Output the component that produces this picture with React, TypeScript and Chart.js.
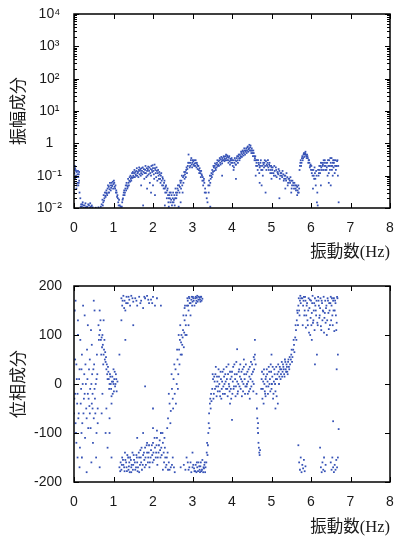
import React, { useEffect, useRef } from 'react';
import { Chart, registerables } from 'chart.js';
Chart.register(...registerables);

// ---- tick definitions ----
const freqTicks = [0, 1, 2, 3, 4, 5, 6, 7, 8];
const ampDecades = [0.01, 0.1, 1, 10, 100, 1000, 10000];
const ampDecadeLabels = ['10⁻²', '10⁻¹', '1', '10¹', '10²', '10³', '10⁴'];
const phaseTicks = [-200, -100, 0, 100, 200];

// ---- amplitude (振幅成分) : [frequency Hz, amplitude] ----
const amplitudeMain: [number, number][] = [
  [0.0, 0.05], [0.0, 0.03], [0.0, 0.15], [0.01, 0.12], [0.02, 0.2], [0.03, 0.08], [0.04, 0.15], [0.05, 0.1], [0.06, 0.04], [0.07, 0.13],
  [0.08, 0.09], [0.09, 0.06], [0.1, 0.14], [0.11, 0.05], [0.12, 0.11], [0.13, 0.07], [0.14, 0.03], [0.16, 0.02],
  [0.18, 0.013], [0.2, 0.011], [0.22, 0.015], [0.25, 0.01], [0.27, 0.012], [0.3, 0.0105], [0.33, 0.011], [0.36, 0.013], [0.4, 0.0102],
  [0.43, 0.011], [0.45, 0.012], [0.55, 0.0102], [0.62, 0.0105],
  [0.68, 0.011], [0.7, 0.013], [0.72, 0.018], [0.74, 0.015], [0.75, 0.025], [0.77, 0.02], [0.78, 0.03], [0.8, 0.022], [0.82, 0.035],
  [0.83, 0.028], [0.85, 0.04], [0.87, 0.03], [0.88, 0.045], [0.9, 0.038], [0.92, 0.05], [0.94, 0.042], [0.95, 0.06], [0.97, 0.048],
  [0.98, 0.065], [1.0, 0.055], [1.01, 0.07], [1.03, 0.045],
  [1.04, 0.04], [1.06, 0.03], [1.07, 0.035], [1.09, 0.022], [1.1, 0.025], [1.12, 0.015], [1.14, 0.018], [1.16, 0.012], [1.18, 0.011],
  [1.22, 0.015], [1.24, 0.02], [1.26, 0.03], [1.28, 0.025], [1.3, 0.04], [1.32, 0.035], [1.34, 0.05], [1.36, 0.045], [1.38, 0.06],
  [1.4, 0.07], [1.42, 0.065], [1.44, 0.08], [1.46, 0.09], [1.48, 0.085], [1.5, 0.1],
  [1.52, 0.12], [1.54, 0.09], [1.56, 0.11], [1.58, 0.14], [1.6, 0.1], [1.62, 0.13], [1.64, 0.15], [1.66, 0.11], [1.68, 0.16], [1.7, 0.12],
  [1.72, 0.14], [1.74, 0.18], [1.76, 0.13], [1.78, 0.08], [1.8, 0.15], [1.82, 0.12], [1.84, 0.17], [1.86, 0.1], [1.88, 0.19], [1.9, 0.14],
  [1.92, 0.06], [1.94, 0.16], [1.96, 0.2], [1.98, 0.13], [2.0, 0.17], [2.02, 0.11], [2.04, 0.22], [2.06, 0.15], [2.08, 0.09], [2.1, 0.14],
  [2.12, 0.12], [2.14, 0.1], [2.16, 0.13], [2.18, 0.08], [2.2, 0.1], [1.75, 0.012], [1.95, 0.03], [2.0, 0.05],
  [2.22, 0.07], [2.24, 0.09], [2.26, 0.05], [2.28, 0.06], [2.3, 0.04], [2.32, 0.045], [2.34, 0.03], [2.36, 0.035], [2.38, 0.025],
  [2.4, 0.02], [2.42, 0.03], [2.44, 0.015], [2.46, 0.018], [2.48, 0.012], [2.5, 0.02], [2.3, 0.012], [2.4, 0.011],
  [2.52, 0.015], [2.54, 0.025], [2.56, 0.02], [2.58, 0.03], [2.6, 0.025], [2.62, 0.04], [2.64, 0.035], [2.66, 0.05], [2.68, 0.045],
  [2.7, 0.06], [2.72, 0.07], [2.74, 0.05], [2.76, 0.09], [2.78, 0.1], [2.8, 0.08], [2.82, 0.13], [2.84, 0.15], [2.86, 0.12], [2.88, 0.2],
  [2.9, 0.45], [2.92, 0.25], [2.55, 0.012], [2.65, 0.011], [2.7, 0.015], [2.75, 0.03],
  [2.94, 0.2], [2.96, 0.3], [2.98, 0.22], [3.0, 0.25], [3.02, 0.28], [3.04, 0.2], [3.06, 0.24], [3.08, 0.3], [3.1, 0.18], [3.12, 0.22],
  [3.14, 0.2], [3.16, 0.15], [3.18, 0.17], [3.2, 0.12], [3.22, 0.14], [3.24, 0.1], [3.26, 0.09], [3.28, 0.07], [3.3, 0.06], [3.32, 0.04],
  [3.34, 0.03], [3.36, 0.02], [3.38, 0.015], [3.45, 0.011],
  [3.4, 0.05], [3.42, 0.07], [3.44, 0.1], [3.46, 0.08], [3.48, 0.12], [3.5, 0.15], [3.52, 0.13], [3.54, 0.18], [3.56, 0.2], [3.58, 0.17],
  [3.6, 0.22], [3.62, 0.25], [3.64, 0.2], [3.66, 0.28], [3.68, 0.3], [3.7, 0.25], [3.72, 0.32], [3.74, 0.28], [3.76, 0.35], [3.78, 0.3],
  [3.8, 0.38], [3.82, 0.33], [3.84, 0.4], [3.86, 0.35], [3.88, 0.42], [3.9, 0.3], [3.92, 0.36], [3.94, 0.28], [3.96, 0.33], [3.98, 0.25],
  [4.0, 0.3], [4.02, 0.2], [4.04, 0.15], [4.06, 0.25], [4.08, 0.3], [4.1, 0.22], [4.12, 0.35], [4.14, 0.3], [4.16, 0.4], [4.18, 0.35],
  [4.2, 0.45], [4.22, 0.4], [4.24, 0.5], [4.26, 0.45], [4.28, 0.55], [4.3, 0.5], [4.32, 0.6], [4.34, 0.55], [4.36, 0.7], [4.38, 0.6],
  [4.4, 0.8], [4.42, 0.65], [4.44, 0.9], [4.46, 0.75], [4.48, 0.6], [4.5, 0.7], [4.52, 0.5], [4.54, 0.6], [4.56, 0.4], [4.58, 0.35],
  [4.6, 0.3], [4.62, 0.25], [4.64, 0.2], [4.66, 0.3], [4.68, 0.22], [4.7, 0.18], [4.72, 0.25], [4.74, 0.15], [4.76, 0.2], [4.78, 0.1],
  [4.8, 0.22], [4.82, 0.25], [4.84, 0.2], [4.86, 0.28], [4.88, 0.22], [4.9, 0.25], [4.92, 0.18], [4.94, 0.22], [4.96, 0.2], [4.98, 0.15],
  [5.0, 0.18], [4.1, 0.08], [4.75, 0.05], [4.85, 0.03], [5.0, 0.08],
  [5.02, 0.15], [5.05, 0.12], [5.07, 0.2], [5.1, 0.1], [5.12, 0.15], [5.15, 0.13], [5.17, 0.11], [5.2, 0.14], [5.22, 0.1], [5.25, 0.12],
  [5.27, 0.09], [5.3, 0.11], [5.32, 0.08], [5.35, 0.1], [5.37, 0.07], [5.4, 0.09], [5.42, 0.06], [5.45, 0.08], [5.47, 0.06], [5.5, 0.07],
  [5.52, 0.05], [5.55, 0.06], [5.57, 0.04], [5.6, 0.05], [5.62, 0.035], [5.65, 0.045], [5.67, 0.03], [5.7, 0.04], [5.2, 0.02], [5.35, 0.04],
  [5.5, 0.03], [5.65, 0.025],
  [5.72, 0.2], [5.74, 0.3], [5.76, 0.25], [5.78, 0.4], [5.8, 0.35], [5.82, 0.5], [5.84, 0.45], [5.86, 0.55], [5.88, 0.4], [5.9, 0.45],
  [5.92, 0.35], [5.94, 0.3], [5.96, 0.25], [5.98, 0.2], [6.0, 0.15],
  [6.02, 0.12], [6.04, 0.1], [6.06, 0.15], [6.08, 0.08], [6.1, 0.12], [6.12, 0.05], [6.14, 0.1], [6.16, 0.03], [6.18, 0.15], [6.2, 0.12],
  [6.15, 0.015], [6.17, 0.012], [6.05, 0.04],
  [6.22, 0.15], [6.24, 0.2], [6.26, 0.18], [6.28, 0.25], [6.3, 0.22], [6.32, 0.3], [6.34, 0.2], [6.36, 0.15], [6.38, 0.25], [6.4, 0.18],
  [6.42, 0.1], [6.44, 0.2], [6.46, 0.3], [6.48, 0.15], [6.5, 0.25], [6.52, 0.35], [6.54, 0.2], [6.56, 0.3], [6.58, 0.25], [6.6, 0.12],
  [6.62, 0.3], [6.64, 0.2], [6.66, 0.28], [6.68, 0.1], [6.7, 0.015], [6.5, 0.05], [6.55, 0.1],
];

const amplitudeScatter: [number, number][] = [
  [0.01, 0.06], [0.02, 0.09], [0.03, 0.17], [0.05, 0.14], [0.07, 0.05], [0.09, 0.11], [0.11, 0.09], [0.12, 0.06], [0.13, 0.13],
  [0.17, 0.011], [0.21, 0.013], [0.24, 0.012], [0.29, 0.014], [0.34, 0.0105], [0.38, 0.012], [0.41, 0.014], [0.47, 0.0105],
  [0.73, 0.012], [0.76, 0.017], [0.79, 0.024], [0.81, 0.03], [0.84, 0.025], [0.86, 0.05], [0.89, 0.03], [0.91, 0.06], [0.93, 0.035],
  [0.96, 0.05], [0.99, 0.04], [1.02, 0.06], [1.05, 0.05], [1.08, 0.03], [1.11, 0.02], [1.13, 0.012],
  [1.21, 0.011], [1.23, 0.018], [1.25, 0.025], [1.27, 0.035], [1.29, 0.03], [1.31, 0.05], [1.33, 0.06], [1.35, 0.04], [1.37, 0.08],
  [1.39, 0.05], [1.41, 0.09], [1.43, 0.1], [1.45, 0.07], [1.47, 0.12], [1.49, 0.13],
  [1.51, 0.09], [1.53, 0.15], [1.55, 0.13], [1.57, 0.1], [1.59, 0.17], [1.61, 0.12], [1.63, 0.09], [1.65, 0.18], [1.67, 0.14], [1.69, 0.1],
  [1.71, 0.17], [1.73, 0.11], [1.77, 0.16], [1.79, 0.12], [1.81, 0.2], [1.83, 0.09], [1.85, 0.14], [1.87, 0.16], [1.89, 0.11], [1.91, 0.18],
  [1.93, 0.12], [1.95, 0.1], [1.97, 0.15], [1.99, 0.21], [2.01, 0.14], [2.03, 0.08], [2.05, 0.17], [2.07, 0.12], [2.09, 0.18], [2.11, 0.07],
  [2.13, 0.15], [2.15, 0.08], [2.17, 0.11], [2.19, 0.06], [1.7, 0.05], [1.85, 0.04], [2.05, 0.025],
  [2.21, 0.12], [2.23, 0.05], [2.25, 0.08], [2.27, 0.04], [2.29, 0.07], [2.31, 0.03], [2.33, 0.05], [2.35, 0.02], [2.37, 0.04], [2.39, 0.015],
  [2.41, 0.025], [2.43, 0.02], [2.45, 0.03], [2.47, 0.025], [2.49, 0.015], [2.51, 0.03], [2.53, 0.018], [2.57, 0.04], [2.59, 0.02], [2.61, 0.03],
  [2.63, 0.05], [2.67, 0.03], [2.69, 0.07], [2.71, 0.04], [2.73, 0.1], [2.77, 0.06], [2.79, 0.13], [2.81, 0.11], [2.83, 0.09], [2.85, 0.18],
  [2.87, 0.16], [2.89, 0.25],
  [2.93, 0.18], [2.95, 0.25], [2.97, 0.35], [2.99, 0.18], [3.01, 0.3], [3.03, 0.22], [3.05, 0.3], [3.07, 0.2], [3.09, 0.25], [3.11, 0.25],
  [3.13, 0.16], [3.15, 0.2], [3.17, 0.12], [3.19, 0.14], [3.21, 0.09], [3.23, 0.11], [3.25, 0.07], [3.27, 0.05], [3.29, 0.08], [3.31, 0.03],
  [3.41, 0.03], [3.43, 0.05], [3.45, 0.06], [3.47, 0.1], [3.49, 0.09], [3.51, 0.11], [3.53, 0.2], [3.55, 0.14], [3.57, 0.24], [3.59, 0.15],
  [3.61, 0.18], [3.63, 0.3], [3.65, 0.22], [3.67, 0.2], [3.69, 0.35], [3.71, 0.22], [3.73, 0.38], [3.75, 0.24], [3.77, 0.3], [3.79, 0.4],
  [3.81, 0.28], [3.83, 0.3], [3.85, 0.45], [3.87, 0.3], [3.89, 0.38], [3.91, 0.25], [3.93, 0.4], [3.95, 0.22], [3.97, 0.3], [3.99, 0.35],
  [3.75, 0.1],
  [4.01, 0.25], [4.03, 0.3], [4.05, 0.18], [4.07, 0.35], [4.09, 0.22], [4.11, 0.28], [4.13, 0.4], [4.15, 0.25], [4.17, 0.45], [4.19, 0.3],
  [4.21, 0.35], [4.23, 0.55], [4.25, 0.38], [4.27, 0.6], [4.29, 0.42], [4.31, 0.7], [4.33, 0.45], [4.35, 0.6], [4.37, 0.5], [4.39, 0.75],
  [4.41, 0.55], [4.43, 0.7], [4.45, 0.6], [4.47, 0.85], [4.49, 0.5], [4.51, 0.6], [4.53, 0.4], [4.55, 0.5], [4.57, 0.3], [4.59, 0.4],
  [4.61, 0.2], [4.63, 0.3], [4.65, 0.15], [4.67, 0.25], [4.69, 0.12], [4.71, 0.2], [4.73, 0.3], [4.77, 0.15], [4.79, 0.25], [4.81, 0.18],
  [4.83, 0.3], [4.87, 0.15], [4.89, 0.2], [4.91, 0.3], [4.93, 0.15], [4.95, 0.25], [4.97, 0.12], [4.99, 0.2], [4.6, 0.1], [4.7, 0.06],
  [5.01, 0.12], [5.03, 0.18], [5.06, 0.1], [5.08, 0.14], [5.11, 0.18], [5.13, 0.09], [5.16, 0.12], [5.18, 0.16], [5.21, 0.08], [5.23, 0.12],
  [5.26, 0.1], [5.28, 0.14], [5.31, 0.07], [5.33, 0.1], [5.36, 0.08], [5.38, 0.12], [5.41, 0.05], [5.43, 0.08], [5.46, 0.07], [5.48, 0.09],
  [5.51, 0.04], [5.53, 0.07], [5.56, 0.05], [5.58, 0.06], [5.61, 0.04], [5.63, 0.05], [5.66, 0.035], [5.68, 0.05], [5.69, 0.03],
  [5.71, 0.15], [5.73, 0.25], [5.75, 0.2], [5.77, 0.35], [5.79, 0.3], [5.81, 0.45], [5.83, 0.38], [5.85, 0.5], [5.87, 0.45], [5.89, 0.35],
  [5.91, 0.4], [5.93, 0.25], [5.95, 0.3], [5.97, 0.18], [5.99, 0.22],
  [6.01, 0.2], [6.03, 0.15], [6.07, 0.1], [6.09, 0.18], [6.11, 0.08], [6.13, 0.14], [6.19, 0.1], [6.21, 0.2], [6.23, 0.12], [6.25, 0.25],
  [6.27, 0.15], [6.29, 0.2], [6.31, 0.15], [6.33, 0.25], [6.35, 0.3], [6.37, 0.2], [6.39, 0.15], [6.41, 0.25], [6.43, 0.3], [6.45, 0.12],
  [6.47, 0.2], [6.49, 0.35], [6.51, 0.2], [6.53, 0.15], [6.55, 0.25], [6.57, 0.18], [6.59, 0.3], [6.61, 0.2], [6.63, 0.15], [6.65, 0.2],
  [6.67, 0.3], [6.69, 0.2], [6.25, 0.05], [6.45, 0.06],
];

// ---- phase (位相成分) : [frequency Hz, phase deg] ----
const phaseMain: [number, number][] = [
  [0.0, -60], [0.02, 150], [0.03, -20], [0.05, -100], [0.06, 40], [0.08, -40], [0.1, 130], [0.11, -70], [0.13, 10], [0.15, -130],
  [0.16, 90], [0.18, -10], [0.2, 60], [0.21, -80], [0.23, 160], [0.25, -30], [0.26, 20], [0.28, -110], [0.3, 0], [0.31, -50],
  [0.33, 70], [0.35, -20], [0.36, -90], [0.38, 30], [0.4, -60], [0.41, -10], [0.43, 110], [0.45, -40], [0.46, 20], [0.48, -120],
  [0.5, -70], [0.51, 40], [0.53, -30], [0.55, 0], [0.56, -150], [0.58, 60], [0.6, -50], [0.04, 170], [0.14, -170], [0.27, 140],
  [0.44, -160], [0.52, 150], [0.09, -150], [0.32, -180], [0.19, 30], [0.39, -45], [0.47, -20], [0.57, 10],
  [0.62, 120], [0.64, 100], [0.66, 110], [0.68, 90], [0.7, 95], [0.71, 75], [0.73, 80], [0.75, 60], [0.76, 70], [0.78, 50],
  [0.8, 45], [0.82, 30], [0.84, 20], [0.86, 35], [0.88, 10], [0.9, 0], [0.92, 15], [0.94, -10], [0.96, 5], [0.98, -20],
  [1.0, 0], [1.02, 10], [1.04, -5], [1.06, 20], [0.7, -60], [0.8, -100], [0.85, -130], [0.95, -40], [0.65, 150], [0.75, 130],
  [0.6, -80], [0.9, -70], [1.0, 30], [1.08, -15], [1.1, 5],
  [1.2, 175], [1.22, 160], [1.25, 180], [1.28, 170], [1.3, 150], [1.33, 178], [1.36, 165], [1.4, 172], [1.45, 180], [1.5, 168],
  [1.55, 175], [1.6, 160], [1.65, 178], [1.7, 170], [1.75, 155], [1.8, 175], [1.85, 180], [1.9, 165], [1.95, 172], [2.0, 178],
  [2.05, 160], [1.15, 60], [1.2, 130], [1.3, 90],
  [1.15, -170], [1.18, -160], [1.2, -175], [1.22, -150], [1.25, -165], [1.28, -178], [1.3, -155], [1.33, -170], [1.35, -145], [1.38, -175],
  [1.4, -160], [1.42, -150], [1.45, -170], [1.48, -140], [1.5, -165], [1.52, -155], [1.55, -175], [1.58, -145], [1.6, -160], [1.62, -170],
  [1.65, -150], [1.68, -135], [1.7, -160], [1.72, -175], [1.75, -145], [1.78, -155], [1.8, -130], [1.82, -165], [1.85, -140], [1.88, -150],
  [1.9, -125], [1.92, -160], [1.95, -135], [1.98, -145], [2.0, -120], [2.02, -155], [2.05, -130], [2.08, -140], [2.1, -110], [2.12, -150],
  [2.15, -125], [2.18, -135], [2.2, -100], [2.22, -145], [2.25, -120], [2.28, -160], [2.3, -130], [2.32, -170], [2.35, -150], [2.38, -175],
  [2.4, -160], [2.45, -170], [2.5, -150], [2.55, -180], [1.6, -110], [1.75, -100], [1.85, -120], [2.0, -90], [2.1, -95], [1.65, -180],
  [1.45, -180], [2.25, -175],
  [2.38, -70], [2.42, -40], [2.45, -55], [2.48, -10], [2.5, -30], [2.52, 10], [2.55, -20], [2.57, 30], [2.6, 0], [2.62, 50],
  [2.64, 20], [2.66, 70], [2.68, 90], [2.7, 60], [2.72, 100], [2.74, 80], [2.76, 110], [2.78, 75], [2.8, 130], [2.82, 100], [2.84, 140],
  [2.86, 160], [2.88, 170], [2.9, 150], [2.92, 175], [2.95, 165], [2.98, 178], [3.0, 168], [3.02, 175], [3.05, 160], [3.08, 178],
  [3.1, 170], [3.12, 180], [3.15, 172], [3.18, 176], [3.2, 168], [3.22, 178], [3.25, 174], [2.9, 120], [2.95, 140],
  [2.78, -165], [2.85, -150], [2.9, -175], [2.95, -160], [3.0, -170], [3.05, -178], [3.08, -165], [3.1, -180], [3.12, -170], [3.15, -160],
  [3.18, -175], [3.2, -168], [3.22, -178], [3.25, -155], [3.28, -170], [3.3, -165], [3.32, -180], [3.0, -140], [2.7, -170],
  [3.36, -140], [3.37, -120], [3.38, -145], [3.4, -100], [3.41, -80], [3.42, -60], [3.44, -40], [3.45, -30], [3.47, -20],
  [3.5, -10], [3.52, 10], [3.54, -20], [3.56, 5], [3.58, 20], [3.6, -5], [3.62, 15], [3.64, -15], [3.66, 30], [3.68, 0],
  [3.7, -25], [3.72, 10], [3.74, -10], [3.76, 25], [3.78, -5], [3.8, 15], [3.82, -20], [3.84, 5], [3.86, 35], [3.88, -10],
  [3.9, 20], [3.92, 0], [3.94, -15], [3.96, 10], [3.98, -30], [4.0, 25], [4.02, 5], [4.04, -10], [4.06, 40], [4.08, 10],
  [4.1, -5], [4.12, 20], [4.14, -20], [4.16, 0], [4.18, 30], [4.2, 15], [4.22, -10], [4.24, 25], [4.26, 5], [4.28, -15],
  [4.3, 35], [4.32, 10], [4.34, -5], [4.36, 20], [4.38, 0], [4.4, -20], [4.42, 30], [4.44, 15], [4.46, -10], [4.48, 45],
  [4.5, 20], [4.52, 5], [4.54, -15], [4.56, 30], [4.58, 60], [4.6, 40], [4.0, -73], [4.13, 71], [4.58, 90], [4.3, 50],
  [4.55, 55], [3.95, -40], [4.45, -30],
  [4.62, -20], [4.63, -50], [4.64, -70], [4.65, -90], [4.66, -100], [4.67, -120], [4.68, -130], [4.69, -140], [4.7, -145], [4.71, -135],
  [4.66, -80],
  [4.75, 10], [4.78, -10], [4.8, 20], [4.82, 0], [4.84, -20], [4.86, 15], [4.88, 30], [4.9, 5], [4.92, -5], [4.94, 25],
  [4.96, 10], [4.98, 40], [5.0, -10], [5.02, 15], [5.04, -30], [5.06, 5], [5.08, 20], [5.1, -15], [5.12, 35], [5.14, 10],
  [5.16, -40], [5.18, 25], [5.2, 15], [5.22, 30], [5.24, 20], [5.26, 45], [5.28, 25], [5.3, 35], [5.32, 20], [5.34, 50],
  [5.36, 30], [5.38, 40], [5.4, 25], [5.42, 45], [5.44, 35], [5.46, 55], [4.8, -40], [5.0, 60], [5.1, -50], [4.85, -25],
  [5.5, 60], [5.52, 45], [5.55, 70], [5.57, 80], [5.6, 95], [5.62, 110], [5.64, 130], [5.66, 145], [5.68, 160], [5.7, 150],
  [5.72, 170], [5.74, 165],
  [5.78, 175], [5.8, 160], [5.82, 178], [5.84, 150], [5.86, 170], [5.88, 140], [5.9, 165], [5.92, 120], [5.94, 175], [5.96, 155],
  [5.98, 100], [6.0, 170], [6.02, 145], [6.04, 180], [6.06, 130], [6.08, 165], [6.1, 175], [6.12, 150], [6.14, 170], [6.16, 125],
  [6.18, 178], [6.2, 160], [6.22, 140], [6.24, 175], [6.26, 110], [6.28, 165], [6.3, 150], [6.32, 178], [6.34, 135], [6.36, 170],
  [6.38, 155], [6.4, 100], [6.42, 175], [6.44, 145], [6.46, 165], [6.48, 120], [6.5, 178], [6.52, 160], [6.54, 140], [6.56, 170],
  [6.58, 175], [6.6, 150], [6.62, 165], [6.64, 110], [6.66, 178], [6.68, 60], [6.02, 90], [6.1, 40], [6.15, 60], [6.65, 30],
  [6.56, -76], [6.7, -92],
  [5.68, -125], [5.7, -160], [5.72, -175], [5.74, -150], [5.76, -180], [5.78, -165], [5.8, -172], [5.82, -155], [5.84, -178], [5.86, -168],
  [6.23, -130], [6.25, -170], [6.27, -180], [6.29, -160], [6.31, -175], [6.33, -150], [6.35, -178], [6.37, -165],
  [6.5, -160], [6.52, -175], [6.54, -150], [6.56, -170], [6.58, -180], [6.6, -165], [6.62, -175], [6.64, -155], [6.66, -170], [6.68, -150],
];

const phaseScatter: [number, number][] = [
  [0.01, -30], [0.03, 50], [0.04, -80], [0.06, -120], [0.07, 10], [0.09, -20], [0.12, -60], [0.14, 30], [0.17, -40], [0.19, -100],
  [0.22, 0], [0.24, -60], [0.27, -20], [0.29, 40], [0.32, -70], [0.34, 10], [0.37, -30], [0.4, 50], [0.42, -90], [0.44, 0],
  [0.47, -50], [0.49, 30], [0.52, -10], [0.54, -60], [0.57, -100], [0.59, 20], [0.1, 100], [0.35, 120], [0.5, 170], [0.2, -150], [0.45, 80],
  [0.63, 90], [0.67, 130], [0.69, 60], [0.72, 100], [0.74, 40], [0.77, 90], [0.79, 65], [0.81, 55], [0.83, 40], [0.85, 10],
  [0.87, 25], [0.89, -10], [0.91, 20], [0.93, 0], [0.95, -25], [0.97, 15], [0.99, 5], [1.01, -15], [1.03, 25], [1.05, 0],
  [1.07, 10], [0.72, -20], [0.82, -50], [0.9, -100], [0.95, -150], [0.65, -170],
  [1.17, -178], [1.21, -165], [1.24, -155], [1.27, -170], [1.29, -140], [1.32, -160], [1.34, -178], [1.37, -150], [1.39, -168], [1.41, -180],
  [1.44, -155], [1.46, -165], [1.49, -175], [1.51, -145], [1.54, -160], [1.57, -170], [1.59, -150], [1.61, -178], [1.64, -140], [1.67, -165],
  [1.69, -150], [1.71, -130], [1.74, -165], [1.77, -140], [1.79, -170], [1.81, -150], [1.84, -125], [1.87, -160], [1.89, -140], [1.91, -170],
  [1.94, -150], [1.97, -125], [1.99, -160], [2.01, -140], [2.04, -110], [2.07, -150], [2.09, -125], [2.11, -165], [2.14, -140], [2.17, -115],
  [2.19, -150], [2.21, -130], [2.24, -100], [2.27, -140], [2.29, -110], [2.31, -150], [2.34, -165], [2.37, -140], [2.42, -175], [2.48, -165],
  [2.53, -170],
  [1.23, 170], [1.27, 155], [1.32, 165], [1.38, 178], [1.42, 160], [1.48, 175], [1.58, 170], [1.68, 165], [1.78, 178], [1.88, 172],
  [1.98, 165], [2.1, 175], [2.2, 160], [1.5, 120], [1.8, -5], [2.0, -50],
  [2.36, -90], [2.4, -20], [2.44, -80], [2.47, 20], [2.51, -50], [2.54, 40], [2.58, -40], [2.61, 70], [2.63, -10], [2.65, 100],
  [2.67, 40], [2.69, 120], [2.71, 85], [2.73, 60], [2.75, 95], [2.77, 140], [2.79, 105], [2.81, 160], [2.83, 120], [2.85, 100],
  [2.87, 175], [2.89, 160], [2.91, 178], [2.93, 165], [2.97, 172], [2.99, 160], [3.01, 178], [3.03, 170], [3.07, 175], [3.09, 165],
  [3.11, 176], [3.13, 168], [3.16, 178], [3.19, 172], [3.21, 178], [3.23, 170], [2.8, 155],
  [2.82, -175], [2.88, -160], [2.92, -170], [2.97, -180], [3.02, -165], [3.04, -172], [3.07, -178], [3.11, -160], [3.14, -178], [3.17, -168],
  [3.19, -180], [3.21, -160], [3.24, -175], [3.27, -180], [3.29, -172], [3.31, -160], [3.33, -170],
  [3.39, -125], [3.43, -90], [3.46, -50], [3.48, -35], [3.35, -160],
  [3.51, 20], [3.53, -30], [3.55, 15], [3.57, -10], [3.59, 35], [3.61, -25], [3.63, 5], [3.65, -5], [3.67, 15], [3.69, -15],
  [3.71, 25], [3.73, -30], [3.75, 5], [3.77, -20], [3.79, 30], [3.81, 0], [3.83, 20], [3.85, -10], [3.87, 10], [3.89, -25],
  [3.91, 40], [3.93, -5], [3.95, 25], [3.97, -10], [3.99, 15], [4.01, -20], [4.03, 35], [4.05, -5], [4.07, 20], [4.09, -25],
  [4.11, 45], [4.13, 5], [4.15, -15], [4.17, 25], [4.19, -5], [4.21, 40], [4.23, 10], [4.25, -25], [4.27, 30], [4.29, 0],
  [4.31, 20], [4.33, -20], [4.35, 40], [4.37, -5], [4.39, 25], [4.41, 5], [4.43, -15], [4.45, 35], [4.47, 10], [4.49, -5],
  [4.51, 40], [4.53, 25], [4.55, 0], [4.57, 50],
  [4.74, -10], [4.76, 25], [4.77, -30], [4.79, 5], [4.81, 30], [4.83, -15], [4.85, 10], [4.87, -5], [4.89, 20], [4.91, -20],
  [4.93, 35], [4.95, 0], [4.97, -15], [4.99, 25], [5.01, 0], [5.03, 35], [5.05, -20], [5.07, 30], [5.09, 0], [5.11, 10],
  [5.13, -25], [5.15, 20], [5.17, 40], [5.19, 0], [5.21, 35], [5.23, 10], [5.25, 30], [5.27, 15], [5.29, 40], [5.31, 30],
  [5.33, 15], [5.35, 45], [5.37, 25], [5.39, 35], [5.41, 20], [5.43, 50], [5.45, 30], [5.47, 40], [5.49, 50],
  [5.51, 70], [5.53, 55], [5.56, 90], [5.58, 65], [5.61, 120], [5.63, 90], [5.65, 150], [5.67, 120], [5.69, 175], [5.71, 140],
  [5.73, 180], [5.75, 175],
  [5.79, 120], [5.81, 170], [5.83, 140], [5.85, 178], [5.87, 115], [5.89, 160], [5.91, 130], [5.93, 150], [5.95, 105], [5.97, 172],
  [5.99, 135], [6.01, 120], [6.03, 165], [6.05, 125], [6.07, 150], [6.09, 110], [6.11, 160], [6.13, 140], [6.17, 120], [6.19, 170],
  [6.21, 135], [6.23, 155], [6.25, 118], [6.27, 170], [6.29, 130], [6.31, 148], [6.33, 105], [6.35, 145], [6.37, 125], [6.39, 160],
  [6.41, 130], [6.43, 170], [6.45, 112], [6.47, 150], [6.49, 165], [6.51, 130], [6.53, 175], [6.55, 120], [6.57, 150], [6.59, 108],
  [6.61, 170], [6.63, 140], [6.65, 125], [6.67, 175],
];

const POINT_COLOR = '#3652b6';
const TEXT_COLOR = '#1a1a1a';
const TICK_FONT = { family: '"Liberation Sans", Arial, sans-serif', size: 14 };
const YTITLE_FONT = { family: '"Noto Sans CJK JP", sans-serif', size: 17 };
const XTITLE_FONT = { family: '"Liberation Serif", "Noto Sans CJK JP", serif', size: 16.5 };

const framePlugin = {
  id: 'frameTicks',
  afterDraw(chart: any) {
    const { ctx, chartArea: a, scales } = chart;
    const xs = scales.x;
    const ys = scales.y;
    ctx.save();
    ctx.strokeStyle = '#000';
    ctx.lineWidth = 1;
    ctx.beginPath();
    for (const v of freqTicks) {
      const px = Math.round(xs.getPixelForValue(v)) + 0.5;
      ctx.moveTo(px, a.bottom);
      ctx.lineTo(px, a.bottom - 5);
      ctx.moveTo(px, a.top);
      ctx.lineTo(px, a.top + 5);
    }
    if (ys.type === 'logarithmic') {
      for (let e = -2; e <= 4; e++) {
        const d = Math.pow(10, e);
        const py = Math.round(ys.getPixelForValue(d)) + 0.5;
        ctx.moveTo(a.left, py); ctx.lineTo(a.left + 5, py);
        ctx.moveTo(a.right, py); ctx.lineTo(a.right - 5, py);
        if (e < 4) {
          for (let k = 2; k <= 9; k++) {
            const pm = Math.round(ys.getPixelForValue(d * k)) + 0.5;
            ctx.moveTo(a.left, pm); ctx.lineTo(a.left + 3, pm);
            ctx.moveTo(a.right, pm); ctx.lineTo(a.right - 3, pm);
          }
        }
      }
    } else {
      for (const v of phaseTicks) {
        const py = Math.round(ys.getPixelForValue(v)) + 0.5;
        ctx.moveTo(a.left, py); ctx.lineTo(a.left + 5, py);
        ctx.moveTo(a.right, py); ctx.lineTo(a.right - 5, py);
      }
    }
    ctx.stroke();
    ctx.lineWidth = 1.5;
    ctx.strokeRect(a.left, a.top, a.right - a.left, a.bottom - a.top);
    ctx.restore();
  },
};

function zeroPad(s: any) {
  s.paddingLeft = 0;
  s.paddingRight = 0;
  s.paddingTop = 0;
  s.paddingBottom = 0;
}

function xScale(axisHeight: number, titlePadBottom: number) {
  return {
    type: 'linear' as const,
    min: 0,
    max: 8,
    afterBuildTicks: (s: any) => { s.ticks = freqTicks.map((v) => ({ value: v })); },
    afterFit: (s: any) => { s.height = axisHeight; zeroPad(s); },
    grid: { display: false, drawTicks: false },
    border: { display: false },
    ticks: { color: TEXT_COLOR, font: TICK_FONT, padding: 12, maxRotation: 0, autoSkip: false },
    title: {
      display: true,
      text: '振動数(Hz)',
      align: 'end' as const,
      color: TEXT_COLOR,
      font: XTITLE_FONT,
      padding: { top: 0, bottom: titlePadBottom },
    },
  };
}

function makeDataset(points: [number, number][]) {
  return {
    data: points.map(([x, y]) => ({ x, y })),
    backgroundColor: POINT_COLOR,
    borderWidth: 0,
    pointStyle: 'rect' as const,
    pointRadius: 1.25,
    showLine: false,
  };
}

function AmplitudeChart() {
  const ref = useRef<HTMLCanvasElement | null>(null);
  useEffect(() => {
    if (!ref.current) return;
    const chart = new Chart(ref.current, {
      type: 'scatter',
      data: { datasets: [makeDataset([...amplitudeMain, ...amplitudeScatter])] },
      options: {
        animation: false,
        responsive: false,
        events: [],
        layout: { padding: { top: 14, right: 8, left: 0, bottom: 0 } },
        plugins: { legend: { display: false }, tooltip: { enabled: false } },
        scales: {
          x: xScale(61, 6),
          y: {
            type: 'logarithmic',
            min: 0.01,
            max: 10000,
            afterBuildTicks: (s: any) => { s.ticks = ampDecades.map((v) => ({ value: v })); },
            afterFit: (s: any) => { s.width = 74; zeroPad(s); },
            grid: { display: false, drawTicks: false },
            border: { display: false },
            ticks: {
              color: TEXT_COLOR,
              font: TICK_FONT,
              padding: 12,
              crossAlign: 'center',
              autoSkip: false,
              callback: (v: any) => {
                const i = ampDecades.findIndex((d) => Math.abs(d - Number(v)) / d < 1e-6);
                return i >= 0 ? ampDecadeLabels[i] : '';
              },
            },
            title: { display: true, text: '振幅成分', color: TEXT_COLOR, font: YTITLE_FONT, padding: { top: 7, bottom: 0 } },
          },
        },
      },
      plugins: [framePlugin],
    } as any);
    return () => chart.destroy();
  }, []);
  return <canvas ref={ref} width={398} height={269} style={{ display: 'block', width: 398, height: 269 }} />;
}

function PhaseChart() {
  const ref = useRef<HTMLCanvasElement | null>(null);
  useEffect(() => {
    if (!ref.current) return;
    const chart = new Chart(ref.current, {
      type: 'scatter',
      data: { datasets: [makeDataset([...phaseMain, ...phaseScatter])] },
      options: {
        animation: false,
        responsive: false,
        events: [],
        layout: { padding: { top: 17, right: 8, left: 0, bottom: 0 } },
        plugins: { legend: { display: false }, tooltip: { enabled: false } },
        scales: {
          x: xScale(56, 0),
          y: {
            type: 'linear',
            min: -200,
            max: 200,
            afterBuildTicks: (s: any) => { s.ticks = phaseTicks.map((v) => ({ value: v })); },
            afterFit: (s: any) => { s.width = 74; zeroPad(s); },
            grid: { display: false, drawTicks: false },
            border: { display: false },
            ticks: { color: TEXT_COLOR, font: TICK_FONT, padding: 12, autoSkip: false },
            title: { display: true, text: '位相成分', color: TEXT_COLOR, font: YTITLE_FONT, padding: { top: 7, bottom: 0 } },
          },
        },
      },
      plugins: [framePlugin],
    } as any);
    return () => chart.destroy();
  }, []);
  return <canvas ref={ref} width={398} height={269} style={{ display: 'block', width: 398, height: 269 }} />;
}

export default function App() {
  return (
    <div style={{ position: 'absolute', left: 0, top: 0, width: 398, height: 538, background: '#fff' }}>
      <AmplitudeChart />
      <PhaseChart />
    </div>
  );
}
